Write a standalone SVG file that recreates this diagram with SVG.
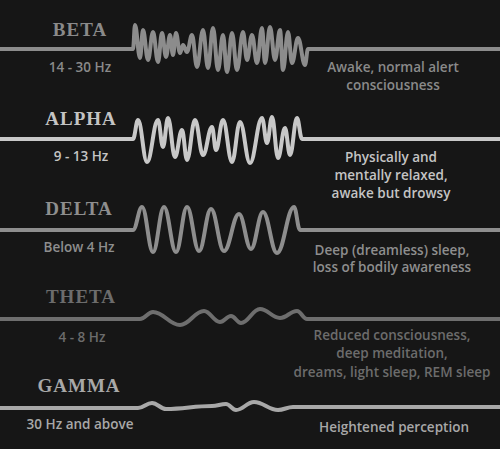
<svg xmlns="http://www.w3.org/2000/svg" width="500" height="449" viewBox="0 0 500 449">
<style>
.wave{fill:none;stroke-width:4;stroke-linejoin:round;stroke-linecap:round}
.lbl{font-family:"Liberation Serif",serif;font-size:19px;font-weight:bold;letter-spacing:1px;text-anchor:middle}
.txt{font-family:"Open Sans","DejaVu Sans",sans-serif;font-size:13.5px;font-weight:600;text-anchor:middle}
</style>
<rect width="500" height="449" fill="#161616"/>
<g id="connectors">
<path id="beta-wave" class="wave" stroke="#8c8c8c" d="M0,49 H133 C133.8,49 134.2,25 135,25 C137,25 138,58 140,58 C141.2,58 141.8,30 143,30 C145,30 146,60 148,60 C150,60 151,32 153,32 C155,32 156,62 158,62 C159.6,62 160.4,33 162,33 C163.6,33 164.4,57 166,57 C167.6,57 168.4,35 170,35 C171.2,35 171.8,55 173,55 C174.2,55 174.8,33 176,33 C177.6,33 178.4,53 180,53 C181.2,53 181.8,45 183,45 C184.6,45 185.4,52 187,52 C189,52 190,35 192,35 C194,35 195,67 197,67 C199.4,67 200.6,30 203,30 C205,30 206,68 208,68 C210,68 211,28 213,28 C215,28 216,70 218,70 C220,70 221,35 223,35 C224.6,35 225.4,72 227,72 C229,72 230,33 232,33 C234,33 235,70 237,70 C239.4,70 240.6,32 243,32 C244.6,32 245.4,60 247,60 C249,60 250,35 252,35 C254,35 255,63 257,63 C259,63 260,28 262,28 C263.2,28 263.8,63 265,63 C267,63 268,27 270,27 C272,27 273,60 275,60 C277,60 278,30 280,30 C281.2,30 281.8,70 283,70 C285,70 286,32 288,32 C289.6,32 290.4,63 292,63 C294.4,63 295.6,38 298,38 C300.8,38 302.2,65 305,65 C306.2,65 306.8,49 308,49 H500"/>
<path id="alpha-wave" class="wave" stroke="#c8c8c8" d="M0,139 H133 C135,139 136,120 138,120 C141.6,120 143.4,162 147,162 C151.4,162 153.6,120 158,120 C160,120 161,147 163,147 C165,147 166,118 168,118 C170.8,118 172.2,157 175,157 C177.8,157 179.2,130 182,130 C184,130 185,160 187,160 C190.2,160 191.8,120 195,120 C198.2,120 199.8,155 203,155 C206.6,155 208.4,127 212,127 C213.6,127 214.4,150 216,150 C218.8,150 220.2,120 223,120 C226.6,120 228.4,162 232,162 C235.2,162 236.8,122 240,122 C244,122 246,163 250,163 C254.8,163 257.2,118 262,118 C264,118 265,143 267,143 C269,143 270,117 272,117 C274.4,117 275.6,158 278,158 C280.8,158 282.2,128 285,128 C287,128 288,155 290,155 C292.8,155 294.2,118 297,118 C299,118 300,139 302,139 H500"/>
<path id="delta-wave" class="wave" stroke="#8e8e8e" d="M0,230 H133 C136.6,230 138.4,207 142,207 C146.4,207 148.6,252 153,252 C157.4,252 159.6,207 164,207 C168.8,207 171.2,252 176,252 C180.4,252 182.6,207 187,207 C191.8,207 194.2,251 199,251 C203.8,251 206.2,209 211,209 C216.2,209 218.8,251 224,251 C230,251 233,214 239,214 C243.8,214 246.2,249 251,249 C255.8,249 258.2,212 263,212 C268.6,212 271.4,253 277,253 C283.8,253 287.2,207 294,207 C296.4,207 297.6,230 300,230 H500"/>
<path id="theta-wave" class="wave" stroke="#6e6e6e" d="M0,319 H140 C145.2,319 147.8,312 153,312 C163.8,312 169.2,325 180,325 C189.6,325 194.4,311 204,311 C210.4,311 213.6,322 220,322 C224.4,322 226.6,316 231,316 C235,316 237,323 241,323 C248.6,323 252.4,309 260,309 C268,309 272,318 280,318 C286.8,318 290.2,311 297,311 C301,311 303,319 307,319 H500"/>
<path id="gamma-wave" class="wave" stroke="#a8a8a8" d="M0,408 H138 C143.6,408 146.4,403 152,403 C157.6,403 160.4,409 166,409 C184.4,409 193.6,406 212,406 C217.6,406 220.4,404 226,404 C230,404 232,410 236,410 C243.2,410 246.8,402 254,402 C263.6,402 268.4,410 278,410 C284,410 287,407 293,407 H500"/>
</g>
<g id="beta" fill="#8a8a8a">
<text class="lbl" x="80" y="36">BETA</text>
<text class="txt" x="80" y="72">14 - 30 Hz</text>
<text class="txt" x="393" y="72">Awake, normal alert</text>
<text class="txt" x="393" y="90">consciousness</text>
</g>
<g id="alpha" fill="#c4c4c4">
<text class="lbl" x="81" y="125">ALPHA</text>
<text class="txt" x="81" y="161">9 - 13 Hz</text>
<text class="txt" x="391" y="162">Physically and</text>
<text class="txt" x="391" y="180">mentally relaxed,</text>
<text class="txt" x="391" y="198">awake but drowsy</text>
</g>
<g id="delta" fill="#8e8e8e">
<text class="lbl" x="79" y="215">DELTA</text>
<text class="txt" x="79" y="252">Below 4 Hz</text>
<text class="txt" x="392" y="255">Deep (dreamless) sleep,</text>
<text class="txt" x="392" y="272">loss of bodily awareness</text>
</g>
<g id="theta" fill="#6c6c6c">
<text class="lbl" x="81" y="303">THETA</text>
<text class="txt" x="82" y="342">4 - 8 Hz</text>
<text class="txt" x="392" y="340">Reduced consciousness,</text>
<text class="txt" x="392" y="358">deep meditation,</text>
<text class="txt" x="392" y="377">dreams, light sleep, REM sleep</text>
</g>
<g id="gamma" fill="#a8a8a8">
<text class="lbl" x="79" y="392">GAMMA</text>
<text class="txt" x="80" y="429">30 Hz and above</text>
<text class="txt" x="394" y="432">Heightened perception</text>
</g>
</svg>
